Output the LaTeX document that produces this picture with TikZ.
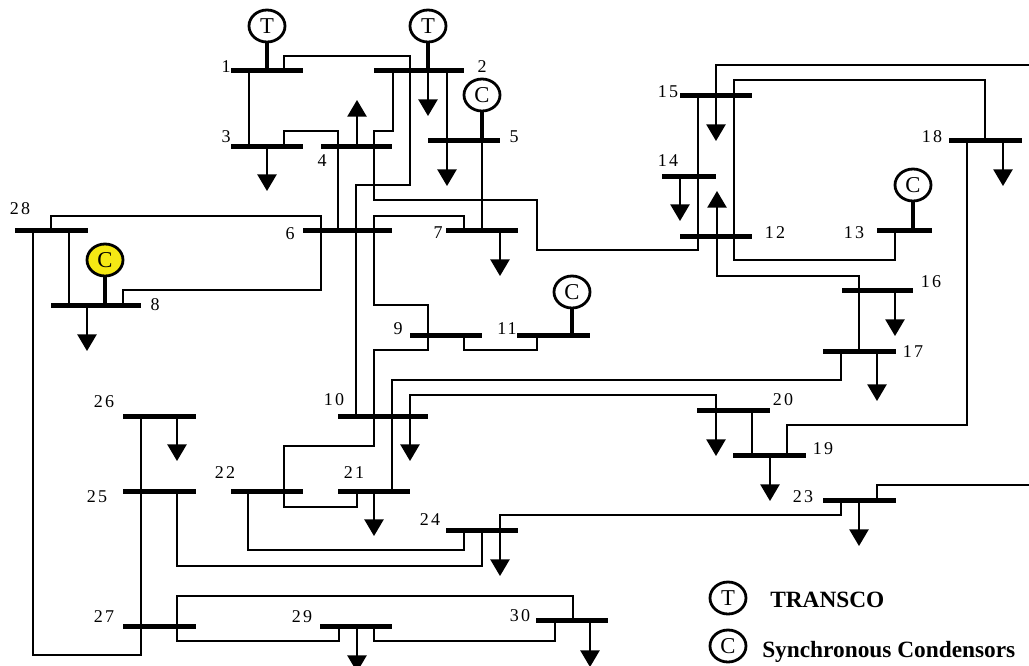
\documentclass[tikz,border=0pt]{standalone}
\usepackage{fontspec}
\setmainfont{Liberation Serif}
\newfontfamily\labfont{Liberation Serif}[LetterSpace=12]
\usetikzlibrary{arrows.meta,shapes.geometric}
\definecolor{genyellow}{RGB}{245,232,20}
\tikzset{
 bus/.style={fill=black, inner sep=0pt, minimum height=3.75pt, draw=none, rectangle},
 ln/.style={line width=1.1pt},
 load/.style={line width=1.1pt, -{Triangle[width=14.5pt,length=12.5pt]}},
 stem/.style={line width=3pt},
 gen/.style={ellipse, draw, line width=2.1pt, minimum width=27pt, minimum height=24pt, inner sep=0pt, fill=white, font=\fontsize{17}{17}\selectfont},
 lab/.style={font=\labfont\fontsize{13.5}{13.5}\selectfont, inner sep=0pt},
 legtext/.style={font=\bfseries\fontsize{17.5}{17.5}\selectfont, anchor=base west, inner sep=0pt}
}
\newcommand\busbar[4]{\node[bus,minimum width={(#3-#2)*0.75pt}] (#1) at ({(#2+#3)/2},#4) {};}
\begin{document}
\begin{tikzpicture}[x=0.75pt,y=-0.75pt]
\useasboundingbox (0,0) rectangle (1029,665);
\clip (0,0) rectangle (1029,665);
% buses
\busbar{b1}{231}{303}{70}
\busbar{b2}{374}{464}{70}
\busbar{b3}{231}{303}{146}
\busbar{b4}{321}{392}{146}
\busbar{b5}{428}{500}{140}
\busbar{b6}{303}{392}{230}
\busbar{b7}{446}{518}{230}
\busbar{b8}{51}{141}{305}
\busbar{b9}{410}{482}{335}
\busbar{b10}{338}{428}{416}
\busbar{b11}{517}{590}{335}
\busbar{b12}{680}{752}{236}
\busbar{b13}{877}{932}{230}
\busbar{b14}{662}{716}{176}
\busbar{b15}{680}{752}{95}
\busbar{b16}{842}{913}{290}
\busbar{b17}{823}{896}{351}
\busbar{b18}{949}{1022}{140}
\busbar{b19}{733}{806}{455}
\busbar{b20}{697}{770}{410}
\busbar{b21}{338}{410}{491}
\busbar{b22}{231}{303}{491}
\busbar{b23}{823}{896}{500}
\busbar{b24}{446}{518}{530}
\busbar{b25}{123}{196}{491}
\busbar{b26}{123}{196}{416}
\busbar{b27}{123}{196}{626}
\busbar{b28}{15}{88}{230}
\busbar{b29}{320}{392}{626}
\busbar{b30}{536}{608}{620}
% free ends at the right edge
\coordinate (e15) at (1035,65);
\coordinate (e23) at (1035,485);
% lines
\draw[ln] (284,0 |- b1.center) |- (410,56) -- (410,185) -| (356,0 |- b10.center);
\draw[ln] (249,0 |- b1.center) -- (249,0 |- b3.center);
\draw[ln] (284,0 |- b3.center) |- (338,131) -- (338,0 |- b6.center);
\draw[ln] (393,0 |- b2.center) |- (374,131) -- (374,200) -| (537,250) -| (698,0 |- b15.center);
\draw[load] (447,0 |- b2.center) -- (447,186);
\draw[ln] (482,0 |- b5.center) -- (482,0 |- b7.center);
\draw[ln] (464,0 |- b7.center) |- (374,216) -- (374,305) -| (428,0 |- b9.center);
\draw[ln] (51,0 |- b28.center) |- (321,216) -- (321,290) -| (123,0 |- b8.center);
\draw[ln] (69,0 |- b28.center) -- (69,0 |- b8.center);
\draw[ln] (33,0 |- b28.center) |- (141,655) -- (141,0 |- b26.center);
\draw[ln] (464,0 |- b9.center) |- (537,350) -- (537,0 |- b11.center);
\draw[ln] (428,0 |- b9.center) |- (374,350) -- (374,446) -| (284,507) -| (357,0 |- b21.center);
\draw[ln] (841,0 |- b17.center) |- (392,380) -- (392,0 |- b21.center);
\draw[load] (410,0 |- b10.center) |- (716,395) -- (716,456);
\draw[load] (410,0 |- b10.center) -- (410,461);
\draw[load] (500,0 |- b24.center) -- (500,576);
\draw[ln] (500,0 |- b24.center) |- (841,515) -- (841,0 |- b23.center);
\draw[ln] (464,0 |- b24.center) |- (248,550) -- (248,0 |- b22.center);
\draw[ln] (482,0 |- b24.center) |- (177,566) -- (177,0 |- b25.center);
\draw[ln] (177,0 |- b27.center) |- (573,596) -- (573,0 |- b30.center);
\draw[ln] (177,0 |- b27.center) |- (339,641) -- (339,0 |- b29.center);
\draw[ln] (374,0 |- b29.center) |- (555,641) -- (555,0 |- b30.center);
\draw[load] (e15) -| (716,141);
\draw[ln] (985,0 |- b18.center) |- (734,80) -- (734,260) -| (895,0 |- b13.center);
\draw[ln] (717,0 |- b12.center) |- (859,276) -- (859,0 |- b17.center);
\draw[load] (717,0 |- b12.center) -- (717,191);
\draw[ln] (967,0 |- b18.center) |- (787,425) -- (787,0 |- b19.center);
\draw[ln] (752,0 |- b20.center) -- (752,0 |- b19.center);
\draw[ln] (877,0 |- b23.center) |- (e23);
% loads
\draw[load] (267,0 |- b3.center) -- (267,191);
\draw[load] (87,0 |- b8.center) -- (87,351);
\draw[load] (428,0 |- b2.center) -- (428,116);
\draw[load] (500,0 |- b7.center) -- (500,276);
\draw[load] (357,0 |- b4.center) -- (357,100);
\draw[load] (680,0 |- b14.center) -- (680,221);
\draw[load] (895,0 |- b16.center) -- (895,336);
\draw[load] (877,0 |- b17.center) -- (877,401);
\draw[load] (1003,0 |- b18.center) -- (1003,186);
\draw[load] (770,0 |- b19.center) -- (770,501);
\draw[load] (374,0 |- b21.center) -- (374,536);
\draw[load] (177,0 |- b26.center) -- (177,461);
\draw[load] (859,0 |- b23.center) -- (859,546);
\draw[load] (357,0 |- b29.center) -- (357,672);
\draw[load] (590,0 |- b30.center) -- (590,667);
% generators and condensers
\node[gen] (g1) at (267,26) {T};
\node[gen] (g2) at (428,26) {T};
\node[gen] (c5) at (482,95) {C};
\node[gen, fill=genyellow] (c8) at (105,260) {C};
\node[gen] (c11) at (572,292) {C};
\node[gen] (c13) at (913,185) {C};
\draw[stem] (g1.south) -- (g1.south |- b1.center);
\draw[stem] (g2.south) -- (g2.south |- b2.center);
\draw[stem] (c5.south) -- (c5.south |- b5.center);
\draw[stem] (c8.south) -- (c8.south |- b8.center);
\draw[stem] (c11.south) -- (c11.south |- b11.center);
\draw[stem] (c13.south) -- (c13.south |- b13.center);
% bus labels
\node[lab] (l1) at (226,67) {1};
\node[lab] (l2) at (482,67) {2};
\node[lab] (l3) at (226,137) {3};
\node[lab] (l4) at (322,161) {4};
\node[lab] (l5) at (514,137) {5};
\node[lab] (l6) at (290,234) {6};
\node[lab] (l7) at (438,233) {7};
\node[lab] (l8) at (155,305) {8};
\node[lab] (l9) at (398,329) {9};
\node[lab] (l10) at (334,400) {10};
\node[lab] (l11) at (507,329) {11};
\node[lab] (l12) at (775,233) {12};
\node[lab] (l13) at (854,233) {13};
\node[lab] (l14) at (668,161) {14};
\node[lab] (l15) at (668,92) {15};
\node[lab] (l16) at (931,282) {16};
\node[lab] (l17) at (913,352) {17};
\node[lab] (l18) at (932,137) {18};
\node[lab] (l19) at (823,449) {19};
\node[lab] (l20) at (783,400) {20};
\node[lab] (l21) at (354,473) {21};
\node[lab] (l22) at (225,473) {22};
\node[lab] (l23) at (803,497) {23};
\node[lab] (l24) at (430,520) {24};
\node[lab] (l25) at (97,497) {25};
\node[lab] (l26) at (104,402) {26};
\node[lab] (l27) at (104,617) {27};
\node[lab] (l28) at (20,209) {28};
\node[lab] (l29) at (302,617) {29};
\node[lab] (l30) at (520,616) {30};
% legend
\node[gen] (legT) at (728,598) {T};
\node[gen] (legC) at (728,646) {C};
\node[legtext] (legTt) at (770,607) {TRANSCO};
\node[legtext] (legCt) at (762,657) {Synchronous Condensors};
\end{tikzpicture}
\end{document}
